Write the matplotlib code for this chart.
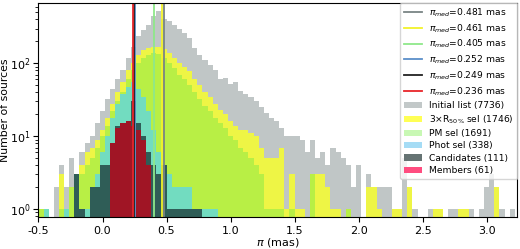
import numpy as np
import matplotlib
matplotlib.use("Agg")
import matplotlib.pyplot as plt
from matplotlib.patches import Patch
from matplotlib.lines import Line2D

plt.rcParams['axes.unicode_minus'] = False
plt.rcParams['font.family'] = ['DejaVu Sans']

# bin centres (mas)
centers = [-0.48, -0.44, -0.40, -0.36, -0.32, -0.28, -0.24, -0.20, -0.16, -0.12,
           -0.08, -0.04, 0.00, 0.04, 0.08, 0.12, 0.16, 0.20, 0.24, 0.28,
           0.32, 0.36, 0.40, 0.44, 0.48, 0.52, 0.56, 0.60, 0.64, 0.68,
           0.72, 0.76, 0.80, 0.84, 0.88, 0.92, 0.96, 1.00, 1.04, 1.08,
           1.12, 1.16, 1.20, 1.24, 1.28, 1.32, 1.36, 1.40, 1.44, 1.48,
           1.52, 1.56, 1.60, 1.64, 1.68, 1.72, 1.76, 1.80, 1.84, 1.88,
           1.92, 1.96, 2.00, 2.04, 2.08, 2.12, 2.16, 2.20, 2.24, 2.28,
           2.32, 2.36, 2.40, 2.44, 2.48, 2.52, 2.56, 2.60, 2.64, 2.68,
           2.72, 2.76, 2.80, 2.84, 2.88, 2.92, 2.96, 3.00, 3.04, 3.08,
           3.12, 3.16, 3.20]

initial = [0, 0, 0, 2, 4, 2, 5, 3, 6, 8,
           10, 15, 22, 32, 45, 60, 80, 120, 170, 240,
           290, 340, 450, 520, 400, 380, 340, 300, 260, 220,
           160, 130, 110, 95, 80, 60, 62, 52, 55, 42,
           38, 34, 30, 25, 21, 18, 16, 13, 10, 10,
           10, 9, 6, 9, 5, 6, 4, 7, 6, 5,
           4, 2, 4, 0, 3, 2, 2, 2, 2, 1,
           1, 5, 2, 1, 0, 0, 1, 1, 1, 0,
           1, 1, 0, 1, 1, 0, 1, 2, 3, 2,
           1, 0, 1]

r50 = [1, 0, 0, 0, 3, 1, 2, 3, 4, 6,
       7, 9, 12, 18, 28, 40, 55, 80, 100, 130,
       150, 160, 170, 165, 155, 140, 120, 100, 90, 78,
       60, 50, 40, 35, 28, 23, 20, 16, 14, 12,
       12, 11, 10, 7, 5, 5, 5, 7, 1, 3,
       1, 1, 0, 3, 3, 3, 2, 1, 1, 0,
       1, 0, 0, 0, 2, 2, 1, 0, 0, 1,
       1, 0, 2, 0, 0, 0, 0, 1, 1, 0,
       0, 0, 1, 1, 0, 0, 0, 0, 0, 2,
       0, 0, 0]

pm = [1, 0, 0, 0, 1, 1, 2, 3, 3, 4,
      5, 7, 10, 14, 22, 30, 40, 60, 80, 100,
      120, 130, 140, 135, 120, 100, 85, 70, 60, 50,
      40, 32, 26, 22, 18, 15, 13, 10, 9, 7,
      6, 5, 4, 3, 1, 1, 1, 1, 0, 1,
      0, 0, 0, 3, 0, 0, 0, 0, 0, 0,
      1, 0, 0, 0, 0, 0, 0, 0, 0, 0,
      0, 0, 0, 0, 0, 0, 0, 0, 0, 0,
      0, 0, 0, 0, 0, 0, 0, 0, 0, 0,
      0, 0, 0]

phot = [0, 1, 0, 0, 0, 1, 0, 2, 1, 1,
        2, 3, 6, 10, 18, 28, 38, 48, 55, 45,
        35, 22, 12, 6, 4, 3, 2, 2, 2, 2,
        1, 1, 1, 1, 1, 0, 0, 0, 0, 0,
        0, 0, 0, 0, 0, 0, 0, 0, 0, 0,
        0, 0, 0, 0, 0, 0, 0, 0, 0, 0,
        0, 0, 0, 0, 0, 0, 0, 0, 0, 0,
        0, 0, 0, 0, 0, 0, 0, 0, 0, 0,
        0, 0, 0, 0, 0, 0, 0, 0, 0, 0,
        0, 0, 0]

cand = [0, 0, 0, 0, 0, 0, 0, 3, 1, 0,
        2, 2, 4, 4, 8, 14, 15, 16, 30, 15,
        10, 6, 4, 3, 4, 1, 1, 1, 1, 1,
        1, 1, 0, 0, 0, 0, 0, 0, 0, 0,
        0, 0, 0, 0, 0, 0, 0, 0, 0, 0,
        0, 0, 0, 0, 0, 0, 0, 0, 0, 0,
        0, 0, 0, 0, 0, 0, 0, 0, 0, 0,
        0, 0, 0, 0, 0, 0, 0, 0, 0, 0,
        0, 0, 0, 0, 0, 0, 0, 0, 0, 0,
        0, 0, 0]

members = [0, 0, 0, 0, 0, 0, 0, 0, 0, 0,
           0, 0, 0, 0, 8, 13, 15, 16, 14, 12,
           9, 4, 0, 0, 0, 0, 0, 0, 0, 0,
           0, 0, 0, 0, 0, 0, 0, 0, 0, 0,
           0, 0, 0, 0, 0, 0, 0, 0, 0, 0,
           0, 0, 0, 0, 0, 0, 0, 0, 0, 0,
           0, 0, 0, 0, 0, 0, 0, 0, 0, 0,
           0, 0, 0, 0, 0, 0, 0, 0, 0, 0,
           0, 0, 0, 0, 0, 0, 0, 0, 0, 0,
           0, 0, 0]

med_values = [0.481, 0.461, 0.405, 0.252, 0.249, 0.236]
med_colors = ['#7a8585', '#f2f22a', '#8fe88a', '#5b8fc9', '#222222', '#e8252a']

hist_labels = ['Initial list (7736)', r'3$\times$R$_{50\%}$ sel (1746)', 'PM sel (1691)',
               'Phot sel (338)', 'Candidates (111)', 'Members (61)']
hist_series = [initial, r50, pm, phot, cand, members]
bar_colors = ['#c0c6c6', '#eef545', '#b8ef45', '#72dcc0', '#2f5d57', '#a01525']
legend_colors = ['#c2c8c8', '#ffff55', '#c8f8b4', '#a5dcf5', '#657373', '#ff4d80']

bw = 0.04
edges = np.round(np.array(centers) - bw / 2, 4).tolist() + [round(centers[-1] + bw / 2, 4)]

fig = plt.figure(figsize=(5.2, 2.49), dpi=100)
ax = fig.add_axes([0.074, 0.1285, 0.921, 0.861])

for vals, col in zip(hist_series, bar_colors):
    ax.hist(centers, bins=edges, weights=vals, color=col, histtype='stepfilled',
            log=True, linewidth=0)

for v, c in zip(med_values, med_colors):
    ax.axvline(v, color=c, lw=1.3)

ax.set_yscale('log')
ax.set_xlim(-0.5, 3.24)
ax.set_ylim(0.78, 680)
ax.set_xticks([-0.5, 0.0, 0.5, 1.0, 1.5, 2.0, 2.5, 3.0])
ax.tick_params(labelsize=8)
ax.tick_params(axis='y', pad=2.5)
ax.tick_params(axis='x', pad=3)
ax.set_xlabel(r'$\pi$ (mas)', fontsize=8, labelpad=0)
ax.set_ylabel('Number of sources', fontsize=7.8)
ax.yaxis.set_label_coords(-0.059, 0.5)

handles = [Line2D([0], [0], color=c, lw=1.3) for c in med_colors]
labels = [r'$\pi_{med}$=%.3f mas' % v for v in med_values]
handles += [Patch(facecolor=c, edgecolor='none') for c in legend_colors]
labels += hist_labels
ax.legend(handles, labels, loc='upper right', fontsize=6.6, labelspacing=0.36,
          borderaxespad=0.0, framealpha=0.8, handlelength=2.0)

fig.savefig('out.png', dpi=100)
